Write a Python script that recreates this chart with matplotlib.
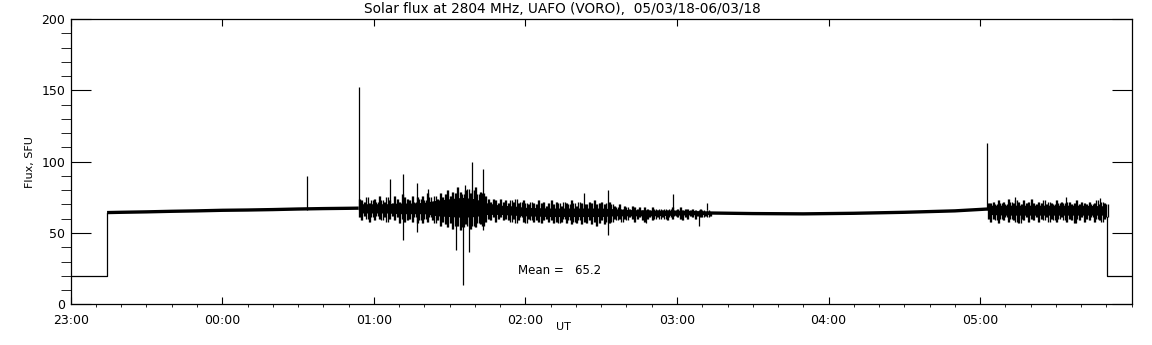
import numpy as np
import matplotlib
matplotlib.use("Agg")
import matplotlib.pyplot as plt

# =========================
# Data (time in minutes after 23:00 UT, flux in SFU)
# =========================
# receiver off / calibration level at both ends
off_start = [0.0, 14.4]
off_end = [410.3, 420.0]
off_level = 20.0

# quiet stretches (band centre)
quiet1_t = [14.4, 20, 30, 40, 50, 60, 70, 80, 90, 100, 110, 114]
quiet1_v = [64.3, 64.5, 64.8, 65.2, 65.5, 65.9, 66.1, 66.4, 66.8, 67.1, 67.3, 67.4]
quiet2_t = [253, 270, 290, 310, 330, 350, 363]
quiet2_v = [64.0, 63.6, 63.4, 63.8, 64.5, 65.5, 66.8]

# noisy stretch 1: per-minute extremes from 114 to 253
noisy1_t0 = 114
noisy1_hi = [74, 73, 72, 75, 71, 73, 74, 72, 76, 73,
             72, 75, 73, 71, 76, 74, 72, 77, 75, 74,
             73, 76, 72, 75, 74, 76, 73, 78, 75, 72,
             76, 74, 78, 75, 77, 80, 76, 79, 78, 82,
             79, 77, 80, 81, 78, 80, 82, 77, 79, 78,
             76, 74, 72, 74, 73, 71, 74, 72, 73, 71,
             73, 72, 74, 71, 72, 73, 71, 70, 72, 71,
             70, 73, 71, 72, 69, 71, 73, 70, 72, 71,
             69, 72, 71, 70, 73, 71, 69, 72, 71, 70,
             70, 72, 71, 73, 70, 71, 72, 70, 71, 72,
             70, 69, 68, 70, 67, 69, 68, 67, 69, 68,
             67, 68, 66, 68, 67, 66, 68, 67, 66, 67,
             66, 67, 66, 67, 68, 66, 67, 68, 66, 67,
             67, 66, 67, 66, 65, 67, 66, 65, 66, 65]
noisy1_lo = [61, 59, 62, 60, 58, 61, 59, 62, 60, 59,
             61, 58, 60, 62, 59, 61, 57, 60, 58, 59,
             60, 58, 61, 57, 59, 57, 60, 58, 61, 59,
             57, 59, 55, 58, 56, 54, 57, 53, 55, 55,
             52, 54, 56, 55, 53, 55, 54, 57, 56, 55,
             58, 60, 59, 61, 58, 60, 61, 59, 60, 59,
             58, 60, 57, 59, 61, 58, 57, 60, 59, 58,
             59, 58, 57, 59, 60, 58, 59, 57, 58, 57,
             58, 60, 57, 59, 56, 58, 57, 59, 56, 58,
             57, 59, 56, 58, 55, 57, 59, 56, 58, 57,
             58, 60, 59, 60, 58, 60, 59, 61, 60, 58,
             60, 61, 59, 58, 60, 61, 59, 60, 61, 60,
             61, 60, 59, 61, 60, 62, 61, 60, 59, 61,
             60, 62, 61, 60, 62, 61, 61, 62, 61, 62]
# dense core of stretch 1
core1_t = [114, 120, 125, 130, 135, 140, 145, 150, 155, 160, 165,
           170, 175, 180, 190, 200, 210, 215, 220, 230, 240, 253]
core1_lo = [64, 64, 64, 63.5, 63.5, 63.5, 62, 61.5, 61, 61.5, 63,
            63, 62.5, 62, 61.5, 61.5, 61.5, 62, 62, 62, 62.5, 63]
core1_hi = [70.5, 70.5, 70.5, 71, 71, 71.5, 73, 74, 75, 74, 71,
            69.5, 69, 68, 67.5, 67.5, 67.5, 67, 66.5, 66, 66, 65.5]

# noisy stretch 2: per-minute extremes from 363 to 410
noisy2_t0 = 363
noisy2_hi = [71, 71, 72, 70, 73, 71, 72, 70, 74, 72,
             71, 73, 72, 70, 73, 71, 72, 74, 71, 70,
             72, 71, 73, 70, 72, 71, 70, 73, 71, 72,
             71, 72, 72, 70, 71, 73, 70, 72, 71, 70,
             72, 70, 71, 73, 70, 72, 71, 70]
noisy2_lo = [60, 58, 60, 59, 57, 60, 59, 61, 58, 60,
             59, 58, 57, 60, 59, 61, 58, 60, 59, 61,
             58, 60, 59, 61, 58, 60, 59, 58, 60, 61,
             59, 58, 60, 59, 57, 60, 59, 61, 58, 60,
             59, 61, 58, 60, 59, 58, 60, 61]
core2_t = [363, 370, 380, 390, 400, 410]
core2_lo = [63, 62.5, 62.5, 62.5, 62.5, 62.5]
core2_hi = [69.5, 69.5, 69.5, 69.5, 69.5, 69]

# single-sample bursts above / below the band (time, flux)
spike_up_t = [93.5, 114.1, 126.5, 131.4, 136.9, 141.5, 156.0, 158.7, 163.3,
              203.2, 212.7, 238.5, 252.0, 362.6, 373.7, 394.1, 407.6]
spike_up_v = [90.0, 152.0, 88.0, 91.0, 85.0, 80.6, 83.6, 99.5, 95.0,
              78.3, 80.0, 77.3, 71.0, 113.0, 75.0, 75.4, 74.3]
spike_dn_t = [131.4, 136.9, 152.4, 155.1, 157.7, 163.3, 212.7, 227.7, 248.7,
              376.0, 398.0]
spike_dn_v = [45.0, 51.0, 38.0, 13.5, 37.0, 52.0, 48.6, 56.8, 55.0,
              57.0, 56.8]

mean_flux = 65.2
hour_labels = ["23:00", "00:00", "01:00", "02:00", "03:00", "04:00", "05:00"]
title = "Solar flux at 2804 MHz, UAFO (VORO),  05/03/18-06/03/18"

t1 = noisy1_t0 + np.arange(len(noisy1_hi))
t2 = noisy2_t0 + np.arange(len(noisy2_hi))

# =========================
# Plot
# =========================
fig = plt.figure(figsize=(11.52, 3.45), dpi=100)
ax = fig.add_axes([70.7 / 1152, 1 - 304.3 / 345, (1131.7 - 70.7) / 1152, (304.3 - 19) / 345])

lw = 0.9
band_mid = 66
# start and end off-levels with their steps
ax.plot([off_start[0], off_start[1], off_start[1]], [off_level, off_level, quiet1_v[0]],
        color="black", lw=lw)
ax.plot([off_end[0], off_end[0], off_end[1]], [noisy2_lo[-1], off_level, off_level],
        color="black", lw=lw)

# quiet stretches (thick band)
ax.plot(quiet1_t, quiet1_v, color="black", lw=2.4, solid_capstyle="butt")
ax.plot(quiet2_t, quiet2_v, color="black", lw=2.4, solid_capstyle="butt")

# noisy stretches: dense core + per-minute excursions
ax.fill_between(core1_t, core1_lo, core1_hi, color="black", lw=0)
ax.fill_between(core2_t, core2_lo, core2_hi, color="black", lw=0)
for tt, lo, hi in [(t1, noisy1_lo, noisy1_hi), (t2, noisy2_lo, noisy2_hi)]:
    ax.vlines(tt, lo, hi, color="black", lw=0.95)
    ax.vlines(tt + 0.5, lo, hi, color="black", lw=0.95)

# bursts
ax.vlines(spike_up_t, band_mid, spike_up_v, color="black", lw=lw)
ax.vlines(spike_dn_t, spike_dn_v, band_mid, color="black", lw=lw)

ax.text(177, 24, f"Mean =   {mean_flux:.1f}", fontsize=8.5, ha="left", va="center")

ax.set_xlim(0, 420)
ax.set_ylim(0, 200)
ax.set_xticks(np.arange(len(hour_labels)) * 60)
ax.set_xticklabels(hour_labels)
ax.set_xticks(np.arange(0, 421, 10), minor=True)
ax.set_yticks([0, 50, 100, 150, 200])
ax.set_yticks(np.arange(0, 201, 10), minor=True)

ax.tick_params(axis="both", direction="in", top=True, right=True, labelsize=9, width=0.8)
ax.tick_params(axis="x", which="major", length=5, pad=7)
ax.tick_params(axis="x", which="minor", length=2.5)
ax.tick_params(axis="y", which="major", length=14.4, pad=4)
ax.tick_params(axis="y", which="minor", length=7.2)
for s in ax.spines.values():
    s.set_linewidth(0.9)

fig.text(562 / 1152, 1 - 9 / 345, title, ha="center", va="center", fontsize=9.8)
fig.text(563 / 1152, 1 - 327 / 345, "UT", ha="center", va="center", fontsize=8)
fig.text(30 / 1152, 1 - 162 / 345, "Flux, SFU", ha="center", va="center", rotation=90, fontsize=8)

fig.savefig("out.png", dpi=100)
